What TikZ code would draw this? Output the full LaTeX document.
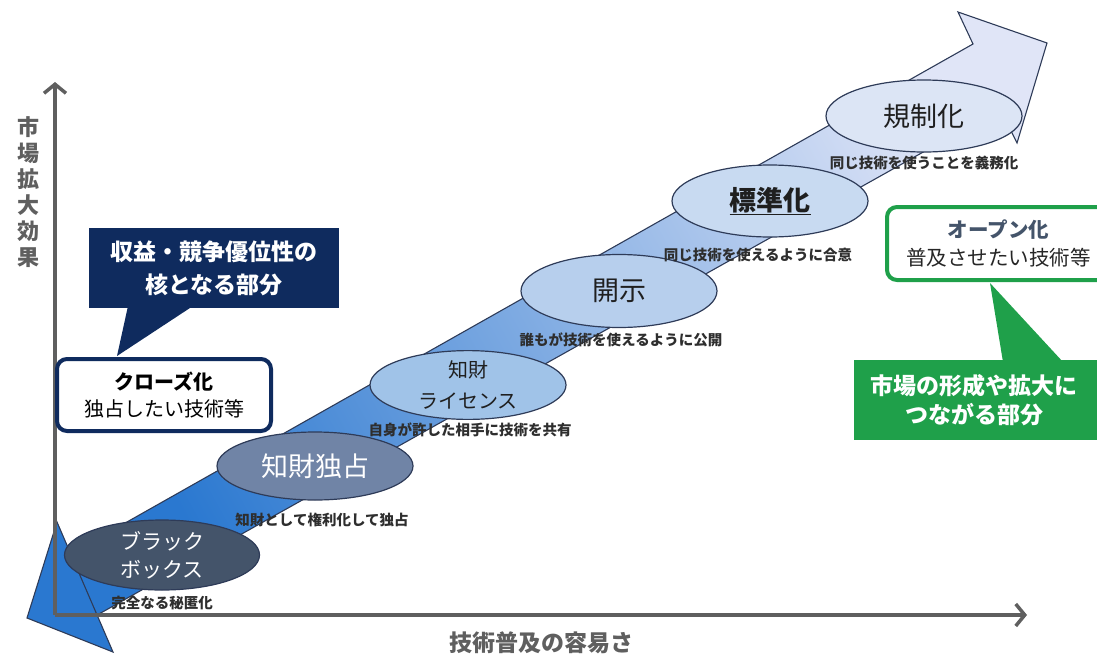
\documentclass[tikz,border=0pt]{standalone}
\usepackage{fontspec}
\newfontfamily\jp{Noto Sans CJK JP}
\usetikzlibrary{shapes.geometric,arrows.meta}
\definecolor{navy}{HTML}{0F2B5E}
\definecolor{edgec}{HTML}{2E3B58}
\definecolor{axisc}{HTML}{5F5F5F}
\definecolor{labelc}{HTML}{2E2E2E}
\definecolor{greenc}{HTML}{1FA04A}
\definecolor{bandA}{HTML}{2A78D0}
\definecolor{bandB}{HTML}{8FB2E6}
\definecolor{bandC}{HTML}{E0E5F7}
\definecolor{e1}{HTML}{44546A}
\definecolor{e2}{HTML}{7084A6}
\definecolor{e3}{HTML}{A0C3E8}
\definecolor{e4}{HTML}{B7CFED}
\definecolor{e5}{HTML}{C8DAF1}
\definecolor{e6}{HTML}{DCE5F5}
\definecolor{opentext}{HTML}{44546A}
\tikzset{
  stage/.style={ellipse, draw=edgec, line width=1.2pt, minimum width=196pt,
    minimum height=70pt, inner sep=0pt, align=center, text=black!88,
    font=\jp\fontsize{27}{31}\selectfont},
  note/.style={font=\jp\bfseries\fontsize{14.5}{16}\selectfont, text=labelc, inner sep=0pt},
  axisline/.style={draw=axisc, line width=3.5pt, -{Straight Barb[length=9pt,width=22pt]}},
  axislabel/.style={font=\jp\bfseries\fontsize{22}{26}\selectfont, text=axisc, align=center, inner sep=0pt},
}
\begin{document}
\begin{tikzpicture}[x=1pt,y=-1pt]
\useasboundingbox (0,0) rectangle (1097,653);

% big diagonal arrow
\path[draw=edgec, line width=1.1pt, top color=bandC, middle color=bandB, bottom color=bandA, shading angle=-61]
  (65,557) -- (973,44) -- (958,12) -- (1047,43) -- (1017,143) -- (1000,109) -- (90,619) -- cycle;
% tail triangle
\path[draw=edgec, line width=1.1pt, fill=bandA] (57,522) -- (27,618) -- (113,652) -- cycle;

% axes
\coordinate (O) at (55,615);
\coordinate (Ytip) at (55,82);
\coordinate (Xtip) at (1027,615);
\draw[axisline] (O) -- (Ytip);
\draw[axisline] (O) -- (Xtip);
\node[axislabel] (ylab) at (28,192) {市\\場\\拡\\大\\効\\果};
\node[axislabel, font=\jp\bfseries\fontsize{23}{26}\selectfont] (xlab) at (541,643) {技術普及の容易さ};

% stages
\node[stage, fill=e1, text=white, minimum width=195pt, font=\jp\fontsize{21}{28}\selectfont] (s1) at (162,555) {ブラック\\ボックス};
\node[stage, fill=e2, text=white, minimum height=68pt] (s2) at (315,466) {知財独占};
\node[stage, fill=e3, minimum height=68pt, font=\jp\fontsize{20}{31}\selectfont] (s3) at (468,385) {知財\\ライセンス};
\node[stage, fill=e4, minimum height=73pt] (s4) at (619,291) {開示};
\node[stage, fill=e5, minimum height=72pt, font=\jp\bfseries\fontsize{27}{31}\selectfont] (s5) at (770,201) {\underline{標準化}};
\node[stage, fill=e6, minimum height=72pt] (s6) at (924,116) {規制化};

% stage notes
\node[note] (n1) at (162,603) {完全なる秘匿化};
\node[note] (n2) at (322,520) {知財として権利化して独占};
\node[note] (n3) at (470,430) {自身が許した相手に技術を共有};
\node[note] (n4) at (621,340) {誰もが技術を使えるように公開};
\node[note] (n5) at (758,255) {同じ技術を使えるように合意};
\node[note] (n6) at (924,163) {同じ技術を使うことを義務化};

% closed side
\fill[navy] (128,306) -- (193,306) -- (117,356) -- cycle;
\node[fill=navy, minimum width=250pt, minimum height=80pt, inner sep=0pt, align=center,
  text=white, font=\jp\bfseries\fontsize{23}{33}\selectfont] (core) at (214,268)
  {収益・競争優位性の\\核となる部分};
\node[draw=navy, line width=4pt, rounded corners=10pt, fill=white, minimum width=214pt,
  minimum height=72pt, inner sep=0pt, align=center, text=black,
  font=\jp\fontsize{20}{27}\selectfont] (closed) at (164,395)
  {{\bfseries クローズ化}\\独占したい技術等};

% open side
\fill[greenc] (990,283) -- (1003,362) -- (1063,362) -- cycle;
\node[draw=greenc, line width=4pt, rounded corners=10pt, fill=white, minimum width=223pt,
  minimum height=73pt, inner sep=0pt, align=center, text=black!85,
  font=\jp\fontsize{20.5}{28}\selectfont] (open) at (998.5,243.5)
  {{\bfseries\color{opentext}オープン化}\\普及させたい技術等};
\node[fill=greenc, minimum width=260pt, minimum height=80pt, inner sep=0pt, align=center,
  text=white, font=\jp\bfseries\fontsize{23}{29}\selectfont] (market) at (984,400)
  {\hspace*{-20pt}市場の形成や拡大に\\\hspace*{-20pt}つながる部分};
\end{tikzpicture}
\end{document}
